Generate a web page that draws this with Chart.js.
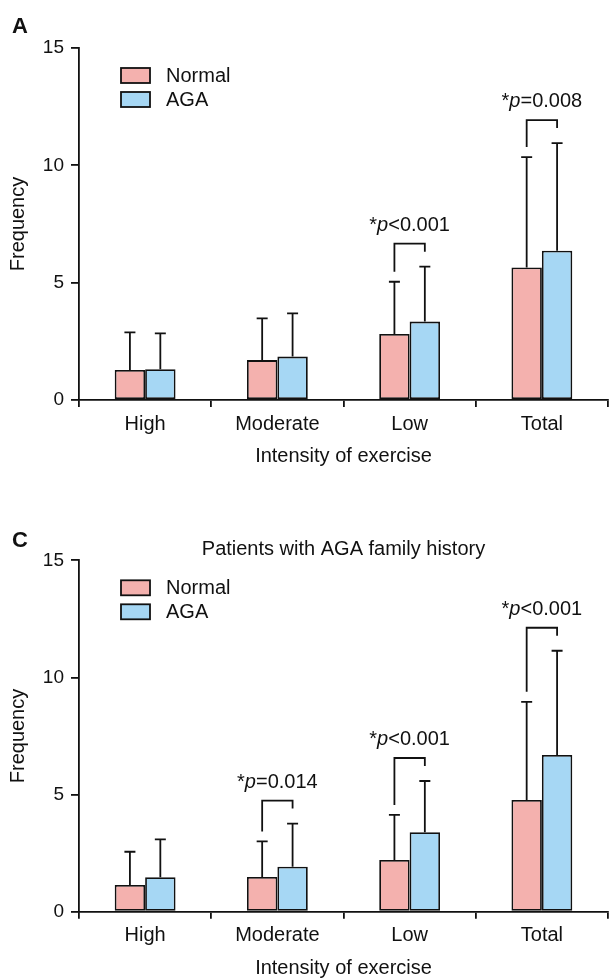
<!DOCTYPE html>
<html>
<head>
<meta charset="utf-8">
<script src="https://cdn.jsdelivr.net/npm/chart.js@4.4.0/dist/chart.umd.min.js"></script>
<style>
body { margin: 0; background: #fff; width: 609px; height: 978px; position: relative; overflow: hidden; }
.panel { position: absolute; left: 0; width: 609px; height: 489px; }
.tag { position: absolute; left: 12px; font: bold 22px 'Liberation Sans', Arial, sans-serif; line-height: 22px; color: #111; }
</style>
</head>
<body>
<div class="panel" style="top:0"><canvas id="chartA" width="609" height="489"></canvas></div>
<div class="panel" style="top:489px"><canvas id="chartC" width="609" height="489"></canvas></div>
<div class="tag" style="top:15px">A</div>
<div class="tag" style="top:529px">C</div>
<script>
var categories = ['High', 'Moderate', 'Low', 'Total'];
var yTicks = [0, 5, 10, 15];

// panel A - all patients
var normalA = [1.28, 1.70, 2.81, 5.65];
var normalSdA = [1.60, 1.78, 2.23, 4.70];
var agaA = [1.31, 1.85, 3.34, 6.36];
var agaSdA = [1.53, 1.84, 2.34, 4.59];
var pLabelsA = [null, null, '*p<0.001', '*p=0.008'];

// panel C - patients with AGA family history
var normalC = [1.14, 1.48, 2.21, 4.77];
var normalSdC = [1.42, 1.52, 1.92, 4.19];
var agaC = [1.47, 1.92, 3.39, 6.69];
var agaSdC = [1.62, 1.84, 2.19, 4.45];
var pLabelsC = [null, '*p=0.014', '*p<0.001', '*p<0.001'];

var FONT = "'Liberation Sans', Arial, sans-serif";
var INK = '#111';
var PINK = '#F4B1AE';
var BLUE = '#A6D7F4';
var LW = 1.8;

Chart.defaults.font.family = FONT;
Chart.defaults.color = INK;

function extras(sds, pLabels) {
    return {
        id: 'extras',
        afterDatasetsDraw: function (chart) {
            var ctx = chart.ctx;
            var yScale = chart.scales.y;
            var area = chart.chartArea;
            var tops = [];
            ctx.save();
            ctx.strokeStyle = INK;
            ctx.lineWidth = LW;

            // error bars (upper only)
            chart.data.datasets.forEach(function (ds, i) {
                var meta = chart.getDatasetMeta(i);
                tops[i] = [];
                meta.data.forEach(function (bar, j) {
                    var yErr = yScale.getPixelForValue(ds.data[j] + sds[i][j]);
                    tops[i][j] = yErr;
                    ctx.beginPath();
                    ctx.moveTo(bar.x, bar.y);
                    ctx.lineTo(bar.x, yErr);
                    ctx.moveTo(bar.x - 5.5, yErr);
                    ctx.lineTo(bar.x + 5.5, yErr);
                    ctx.stroke();
                });
            });

            // significance brackets
            var m0 = chart.getDatasetMeta(0), m1 = chart.getDatasetMeta(1);
            pLabels.forEach(function (lbl, j) {
                if (!lbl) return;
                var xl = m0.data[j].x, xr = m1.data[j].x;
                var top = Math.min(tops[0][j], tops[1][j]) - 23;
                ctx.beginPath();
                ctx.moveTo(xl, tops[0][j] - 10);
                ctx.lineTo(xl, top);
                ctx.lineTo(xr, top);
                ctx.lineTo(xr, tops[1][j] - 15);
                ctx.stroke();

                var parts = [
                    { t: lbl.charAt(0), f: '20px ' + FONT },
                    { t: lbl.charAt(1), f: 'italic 20px ' + FONT },
                    { t: lbl.slice(2), f: '20px ' + FONT }
                ];
                var w = 0;
                parts.forEach(function (p) { ctx.font = p.f; p.w = ctx.measureText(p.t).width; w += p.w; });
                var x = (xl + xr) / 2 - w / 2;
                ctx.fillStyle = INK;
                ctx.textAlign = 'left';
                ctx.textBaseline = 'alphabetic';
                parts.forEach(function (p) { ctx.font = p.f; ctx.fillText(p.t, x, top - 13); x += p.w; });
            });

            // legend inside plot area
            chart.data.datasets.forEach(function (ds, i) {
                var bx = area.left + 42, by = area.top + 20 + i * 24;
                ctx.fillStyle = ds.backgroundColor;
                ctx.fillRect(bx, by, 29, 15);
                ctx.strokeRect(bx, by, 29, 15);
                ctx.fillStyle = INK;
                ctx.font = '20px ' + FONT;
                ctx.textAlign = 'left';
                ctx.textBaseline = 'middle';
                ctx.fillText(ds.label, bx + 45, by + 8);
            });
            ctx.restore();
        }
    };
}

function makeChart(id, normal, normalSd, aga, agaSd, pLabels, o) {
    return new Chart(document.getElementById(id), {
        type: 'bar',
        data: {
            labels: categories,
            datasets: [{
                label: 'Normal',
                data: normal,
                backgroundColor: PINK,
                borderColor: INK,
                borderWidth: LW,
                borderSkipped: false
            }, {
                label: 'AGA',
                data: aga,
                backgroundColor: BLUE,
                borderColor: INK,
                borderWidth: LW,
                borderSkipped: false
            }]
        },
        options: {
            responsive: false,
            animation: false,
            layout: { padding: { top: o.padTop, right: 1, left: 0, bottom: 0 } },
            datasets: { bar: { categoryPercentage: 0.46, barPercentage: 1 } },
            plugins: {
                legend: { display: false },
                tooltip: { enabled: false },
                title: o.title ? {
                    display: true,
                    text: o.title,
                    fullSize: false,
                    color: INK,
                    font: { size: 20, weight: 'normal', lineHeight: 1 },
                    padding: { top: 50, bottom: 1.3 }
                } : { display: false }
            },
            scales: {
                x: {
                    grid: { drawOnChartArea: false, tickLength: 7, color: INK, lineWidth: LW, offset: true },
                    border: { color: INK, width: LW },
                    ticks: { font: { size: 20 }, color: INK, padding: 5 },
                    title: {
                        display: true,
                        text: 'Intensity of exercise',
                        color: INK,
                        font: { size: 20, lineHeight: 1 },
                        padding: { top: 0, bottom: o.xTitlePad }
                    },
                    afterFit: function (s) { s.height = o.xHeight; }
                },
                y: {
                    min: yTicks[0],
                    max: yTicks[yTicks.length - 1],
                    grid: { drawOnChartArea: false, tickLength: 8, color: INK, lineWidth: LW },
                    border: { color: INK, width: LW },
                    ticks: { stepSize: yTicks[1] - yTicks[0], font: { size: 19 }, color: INK, padding: 7 },
                    title: {
                        display: true,
                        text: 'Frequency',
                        color: INK,
                        font: { size: 20, lineHeight: 1 },
                        padding: { top: 8.5, bottom: 0 }
                    },
                    afterFit: function (s) { s.width = 79; }
                }
            }
        },
        plugins: [extras([normalSd, agaSd], pLabels)]
    });
}

makeChart('chartA', normalA, normalSdA, agaA, agaSdA, pLabelsA, { padTop: 48, xHeight: 89, xTitlePad: 23 });
makeChart('chartC', normalC, normalSdC, agaC, agaSdC, pLabelsC, { padTop: 0, xHeight: 66.3, xTitlePad: 0, title: 'Patients with AGA family history' });
</script>
</body>
</html>
